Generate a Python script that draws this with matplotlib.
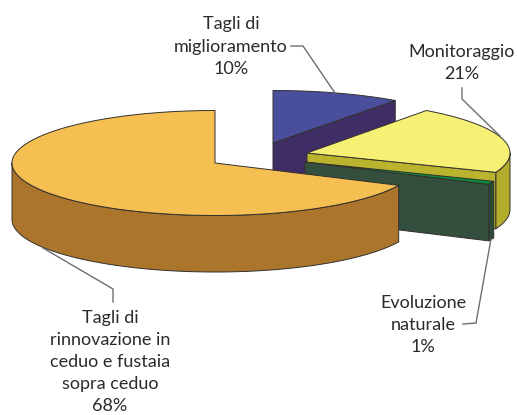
import numpy as np
import matplotlib
matplotlib.use("Agg")
import matplotlib.pyplot as plt

# Data (clockwise from 12 o'clock)
categories = ["Tagli di\nmiglioramento", "Monitoraggio", "Evoluzione\nnaturale",
              "Tagli di\nrinnovazione in\nceduo e fustaia\nsopra ceduo"]
shares = [10, 21, 1, 68]
pct_labels = ["10%", "21%", "1%", "68%"]

# Styles
top_colors = ["#4a4f9d", "#f6f174", "#0b8a3c", "#f5bf52"]
side_colors = ["#3f2e66", "#b3ad2c", "#2b4936", "#ab752c"]
face_colors = ["#3f2e66", "#b9b32e", "#344f3d", "#ab752c"]
centers = [(273, 143), (307, 153), (305, 162), (215, 163)]
radii_x = [208, 203, 203, 203]
RY, DEPTH = 52.5, 56.5
EDGE = "#33302e"

fig = plt.figure(figsize=(5.17, 4.15), dpi=100)
ax = fig.add_axes([0, 0, 1, 1])
ax.set_xlim(0, 517)
ax.set_ylim(415, 0)
ax.axis("off")


def rim(c, rx, a0, a1):
    t = np.radians(np.linspace(a0, a1, max(2, int(abs(a1 - a0)) * 2)))
    return c[0] + rx * np.sin(t), c[1] - RY * np.cos(t)


def poly(xs, ys, color, z):
    ax.fill(xs, ys, facecolor=color, edgecolor=EDGE, linewidth=0.7, joinstyle="round", zorder=z)


edges = np.concatenate([[0], np.cumsum(shares)]) * 3.6
for i in range(len(shares)):
    a0, a1 = edges[i], edges[i + 1]
    c = centers[i]
    rx = radii_x[i]
    z = i * 3 + 1
    # visible outer wall: the part of the rim on the front half (90..270 deg)
    w0, w1 = max(a0, 90), min(a1, 270)
    if w1 > w0:
        x, y = rim(c, rx, w0, w1)
        poly(np.r_[x, x[::-1]], np.r_[y, y[::-1] + DEPTH], side_colors[i], z)
    # visible cut face (the slice's clockwise end, except the big slice)
    if i < 3:
        x, y = rim(c, rx, a1, a1)
        ex, ey = x[0], y[0]
        poly([c[0], ex, ex, c[0]], [c[1], ey, ey + DEPTH, c[1] + DEPTH], face_colors[i], z + 1)
    # top face
    x, y = rim(c, rx, a0, a1)
    poly(np.r_[c[0], x], np.r_[c[1], y], top_colors[i], z + 2)

# Leader lines
LEAD = "#6e6e6e"
leaders = [
    ([291, 303, 335], [46, 46, 93]),
    ([462, 462, 500], [88, 99, 136]),
    ([491, 476, 463], [239, 323, 324]),
    ([43, 113, 113], [248, 289, 302]),
]
for lx, ly in leaders:
    ax.plot(lx, ly, color=LEAD, lw=1.0, zorder=20, solid_joinstyle="miter")

# Labels
label_pos = [(231, 24.5), (462, 51.5), (423, 302.5), (110, 317.5)]
LINE = 22.2
for cat, pct, (tx, ty) in zip(categories, pct_labels, label_pos):
    for k, line in enumerate(cat.split("\n") + [pct]):
        ax.text(tx, ty + k * LINE, line, ha="center", va="center", fontsize=13,
                family="Lato", color="#2b2b2b", zorder=30)

fig.savefig("out.png", dpi=100)
